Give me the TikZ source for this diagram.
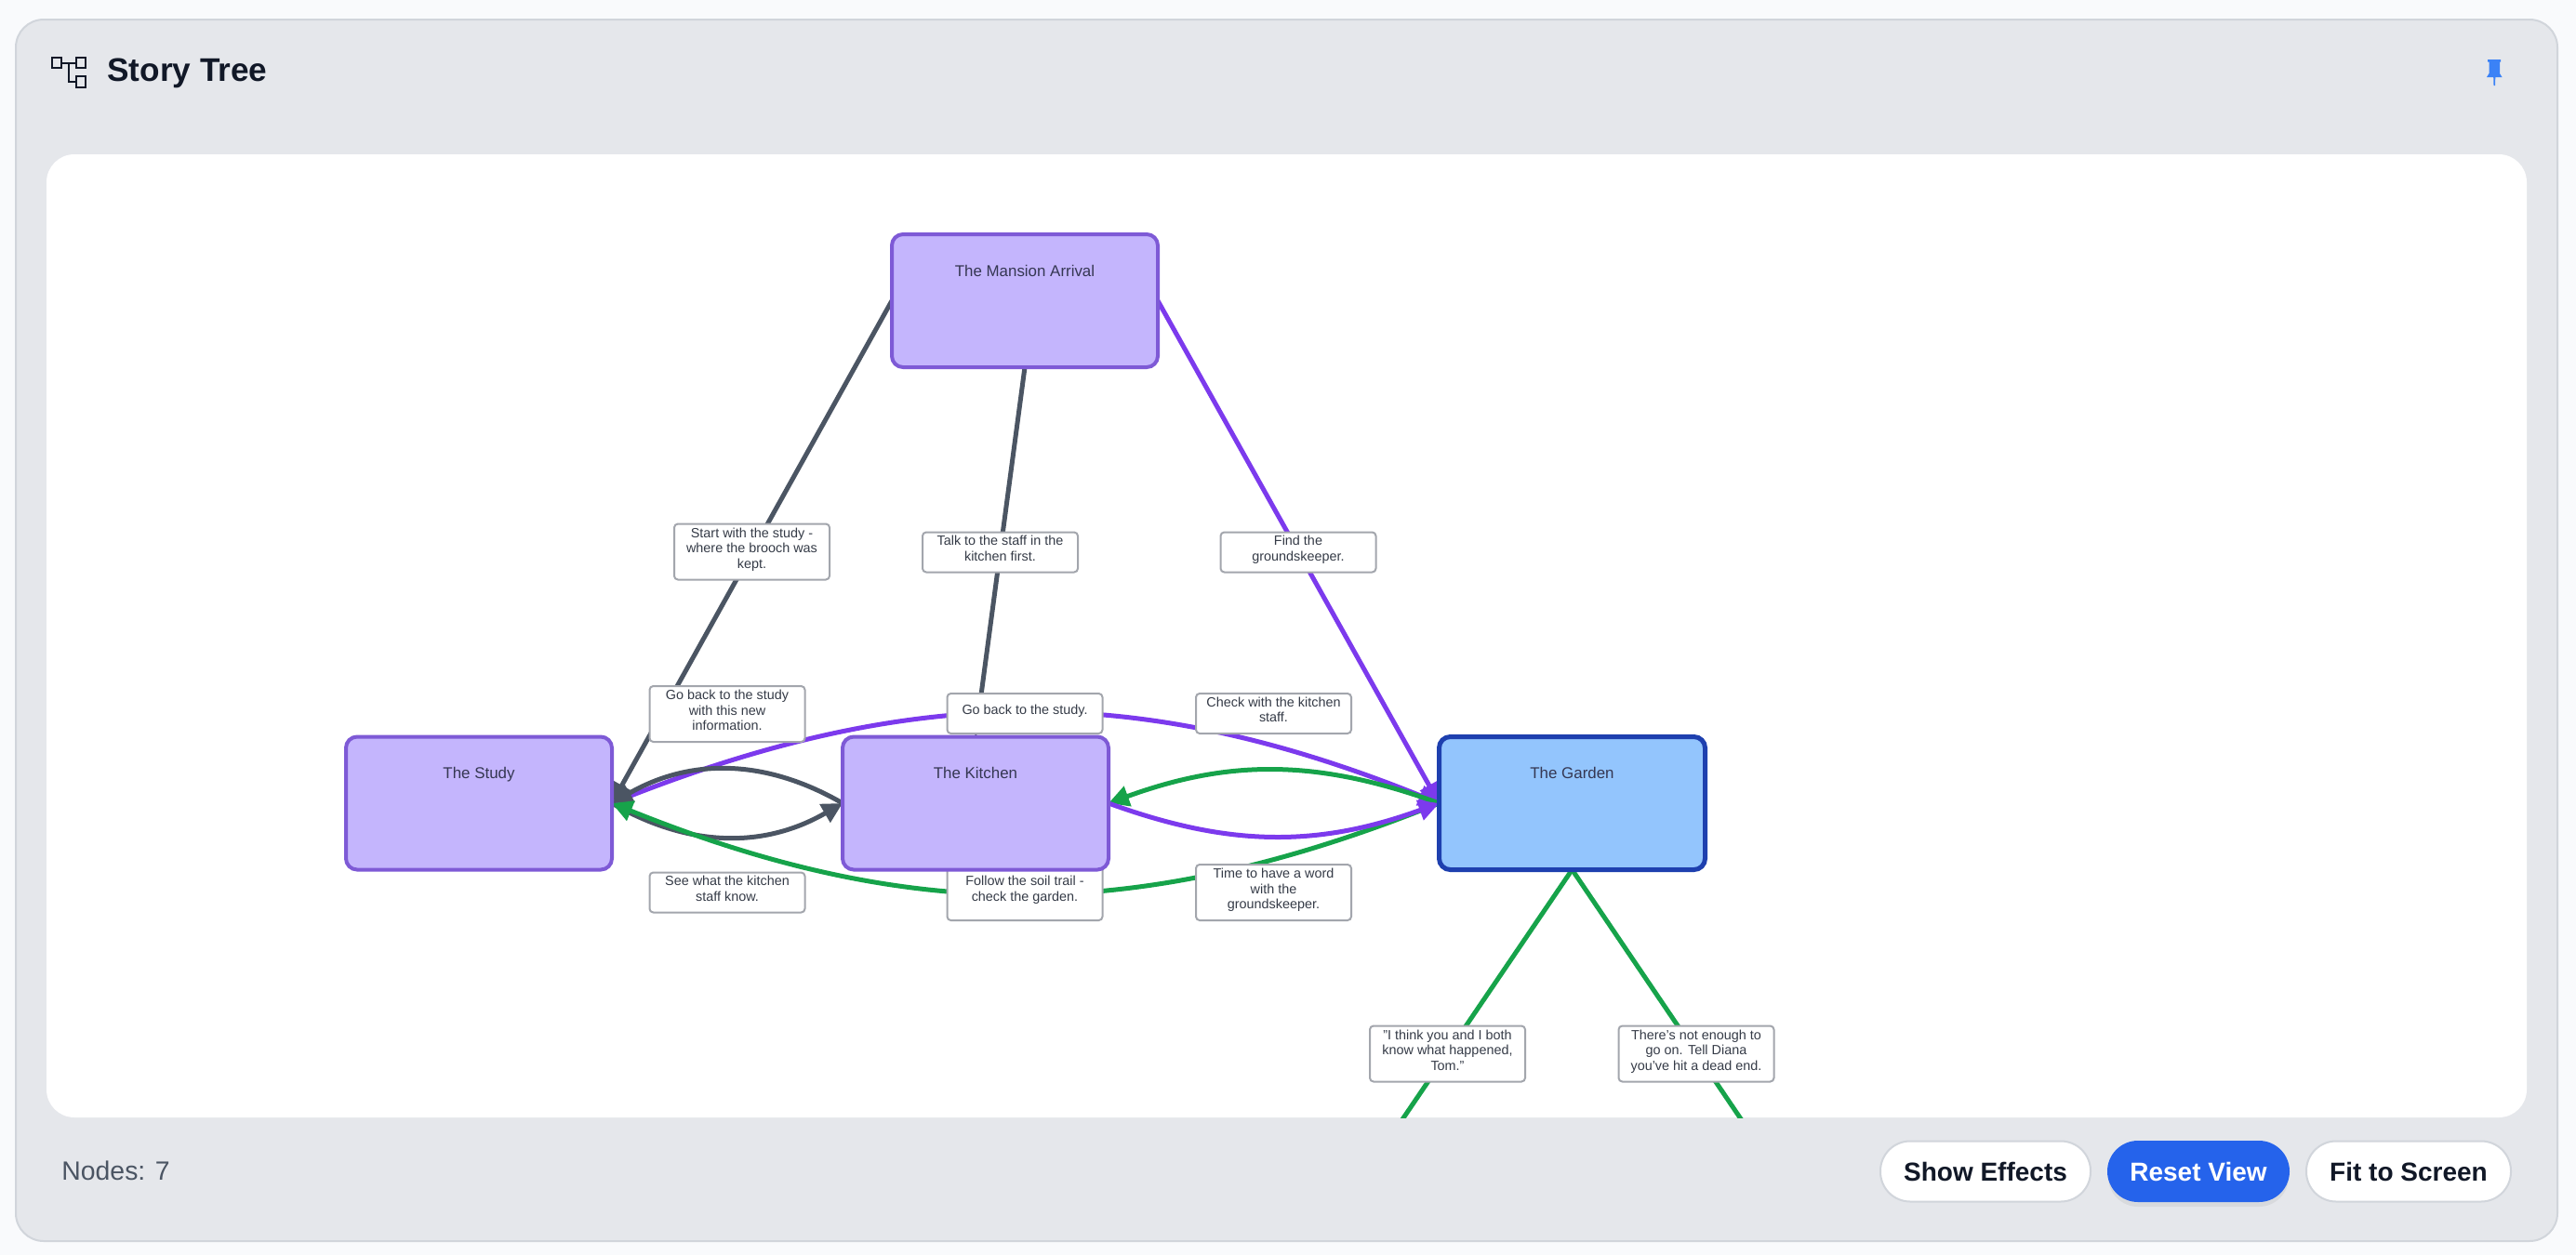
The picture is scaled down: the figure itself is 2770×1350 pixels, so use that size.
\documentclass[tikz,border=0pt]{standalone}
\usepackage{fontspec}
\setmainfont{Liberation Sans}
\usetikzlibrary{arrows.meta,backgrounds,shadows}

\definecolor{pagebg}{HTML}{F9FAFC}
\definecolor{panelbg}{HTML}{E5E7EB}
\definecolor{panelline}{HTML}{D1D5DB}
\definecolor{inkdark}{HTML}{111827}
\definecolor{inkgray}{HTML}{4B5563}
\definecolor{edgepurple}{HTML}{7C3AED}
\definecolor{edgegreen}{HTML}{16A34A}
\definecolor{nodepurple}{HTML}{C4B5FD}
\definecolor{linepurple}{HTML}{7E5AD6}
\definecolor{nodeblue}{HTML}{93C5FD}
\definecolor{lineblue}{HTML}{1E40AF}
\definecolor{boxline}{HTML}{A3A6AD}
\definecolor{btnblue}{HTML}{2563EB}
\definecolor{pinblue}{HTML}{3B82F6}

\tikzset{
  storynode/.style={draw=linepurple, fill=nodepurple, line width=2pt, rounded corners=6pt,
    minimum width=143pt, minimum height=71.5pt, inner sep=0pt, outer sep=0pt,
    text height=6pt, text depth=32.5pt, text=inkdark!80!nodepurple,
    font=\fontsize{8.45}{10}\selectfont},
  currentnode/.style={storynode, draw=lineblue, fill=nodeblue, line width=2.5pt},
  choicebox/.style={draw=boxline, fill=white, line width=1pt, rounded corners=2pt,
    minimum width=83.5pt, minimum height=21.5pt, inner sep=0pt, outer sep=0pt, align=center,
    text=inkdark!85, font=\fontsize{7.2}{8.25}\selectfont,
    execute at end node={\rule[-4pt]{0pt}{0pt}}},
  tallbox/.style={choicebox, minimum height=30pt},
  edge/.style={line width=2.5pt, -{Triangle[length=11pt,width=11pt]}},
  button/.style={draw=panelline, fill=white, line width=1pt, rounded corners=16pt,
    minimum height=32.5pt, inner sep=0pt, text=inkdark, font=\fontsize{14}{16}\selectfont\bfseries},
}

\begin{document}
\begin{tikzpicture}[x=0.5pt,y=-0.5pt]

  % === Labels on the connectors ===
  \node[tallbox] (start) at (808.5,593.5) {Start with the study -\\where the brooch was\\kept.};
  \node[choicebox] (talk) at (1075.5,594) {Talk to the staff in the\\kitchen first.};
  \node[choicebox] (find) at (1396,594) {Find the\\groundskeeper.};
  \node[tallbox] (goback) at (782,768) {Go back to the study\\with this new\\information.};
  \node[choicebox] (backstudy) at (1102,767.5) {Go back to the study.};
  \node[choicebox] (check) at (1369.5,767.5) {Check with the kitchen\\staff.};
  \node[choicebox] (seewhat) at (782,960) {See what the kitchen\\staff know.};
  \node[tallbox] (follow) at (1102,960) {Follow the soil trail -\\check the garden.};
  \node[tallbox] (time) at (1369.5,960) {Time to have a word\\with the\\groundskeeper.};
  \node[tallbox] (tom) at (1556.5,1133.5) {"I think you and I both\\know what happened,\\Tom."};
  \node[tallbox] (dead) at (1824,1133.5) {There's not enough to\\go on. Tell Diana\\you've hit a dead end.};

  % === Story nodes ===
  \node[storynode] (mansion) at (1102,323.5) {The Mansion Arrival};
  \node[storynode] (study) at (515,864) {The Study};
  \node[storynode] (kitchen) at (1049,864) {The Kitchen};
  \node[currentnode] (garden) at (1690.5,864) {The Garden};
  \coordinate (tomend) at (1422.5,1330);
  \coordinate (deadend) at (1957.5,1330);

  % === Header and footer ===
  \node[text=inkdark, font=\fontsize{17.6}{20}\selectfont\bfseries, anchor=west, inner sep=0pt] (title) at (115,79) {Story Tree};
  \node[text=inkgray, font=\fontsize{14.2}{16}\selectfont, anchor=west, inner sep=0pt] (count) at (66,1259) {Nodes: 7};
  \node[button, minimum width=113pt] (effects) at (2135,1260) {Show Effects};
  \node[button, fill=btnblue, draw=btnblue, text=white, minimum width=97pt, minimum height=32pt,
    drop shadow={opacity=0.12, shadow xshift=0pt, shadow yshift=-3pt}] (reset) at (2364,1260) {Reset View};
  \node[button, minimum width=110pt] (fit) at (2590,1260) {Fit to Screen};

  \begin{scope}[on background layer]
    % Panels
    \fill[pagebg] (0,0) rectangle (2770,1350);
    \draw[fill=panelbg, draw=panelline, line width=1pt, rounded corners=15pt] (17,21) rectangle (2750,1335);
    \fill[white, rounded corners=15pt] (50,166) rectangle (2717,1202);

    % Tree icon
    \draw[inkdark, line width=1pt] (56,62) rectangle (66,73);
    \draw[inkdark, line width=1pt] (82,62) rectangle (92,73);
    \draw[inkdark, line width=1pt] (82,82) rectangle (92,94);
    \draw[inkdark, line width=1pt] (66,67.5) -- (82,67.5);
    \draw[inkdark, line width=1pt] (74,67.5) -- (74,88) -- (82,88);

    % Pin
    \fill[pinblue] (2675,64) -- (2689,64) -- (2689,66.5) -- (2688,66.5) -- (2688,79) -- (2690.5,83)
      -- (2683.3,83) -- (2683,92) -- (2681.5,92) -- (2681.2,83) -- (2674,83) -- (2676.5,79)
      -- (2676.5,66.5) -- (2675,66.5) -- cycle;

    % Straight connectors
    \draw[edge, inkgray] (mansion.west) -- (study.east);
    \draw[edge, inkgray] (mansion.south) -- (kitchen.north);
    \draw[edge, edgepurple] (mansion.east) -- (garden.west);

    % Curved connectors
    \draw[edge, edgepurple] (study.east) to[bend left=22] (garden.west);
    \draw[edge, inkgray] (kitchen.west) to[bend right=30] (study.east);
    \draw[edge, inkgray] (study.east) to[bend right=30] (kitchen.west);
    \draw[edge, edgegreen] (garden.west) to[bend left=22] (study.east);
    \draw[edge, edgegreen] (garden.west) to[bend right=20] (kitchen.east);
    \draw[edge, edgepurple] (kitchen.east) to[bend right=20] (garden.west);

    % Connectors that run out of the view
    \begin{scope}
      \clip (50,166) rectangle (2717,1202);
      \draw[edge, edgegreen] (garden.south) -- (tomend);
      \draw[edge, edgegreen] (garden.south) -- (deadend);
    \end{scope}
  \end{scope}

\end{tikzpicture}
\end{document}
